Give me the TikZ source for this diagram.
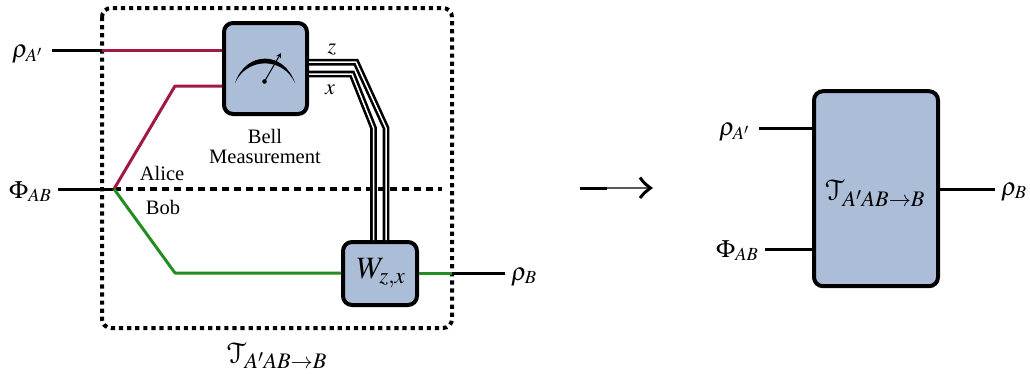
\documentclass[tikz,border=0pt]{standalone}
\usepackage{fontspec}
\usepackage{mathptmx}
\setmainfont{Liberation Serif}
\DeclareMathAlphabet{\mathcal}{U}{eus}{m}{n}
\usetikzlibrary{arrows.meta}
\definecolor{boxblue}{RGB}{172,189,216}
\definecolor{dred}{RGB}{160,25,65}
\definecolor{dgreen}{RGB}{35,140,35}
\tikzset{
  x=1pt,y=-1pt,
  wire/.style={line width=3pt},
  qbox/.style={draw=black,fill=boxblue,line width=4pt,rounded corners=9pt,minimum width=0pt,inner sep=0pt},
  lab/.style={inner sep=0pt,font=\fontsize{25}{28}\selectfont},
  biglab/.style={inner sep=0pt,font=\fontsize{30}{32}\selectfont},
  txt/.style={inner sep=0pt,font=\fontsize{20.5}{24}\selectfont,align=center},
  cwire/.style={line width=2.6pt,double=white,double distance=1.5pt,line join=miter},
}
\begin{document}
\begin{tikzpicture}
\useasboundingbox (0,0) rectangle (1030,373);
% coordinates
\coordinate (in1) at (52,50);
\coordinate (in1b) at (102,50);
\coordinate (in2) at (58,189);
\coordinate (split) at (114,189);
\coordinate (upk) at (175,86);
\coordinate (dnk) at (175,273);
\coordinate (out) at (505,273);
\coordinate (outb) at (452,273);
\coordinate (dashend) at (442,189);
% wires
\draw[wire] (in1) -- (in1b);
\draw[wire] (in2) -- (split);
\draw[wire] (outb) -- (out);
\draw[line width=3.6pt,dash pattern=on 7pt off 5pt] (split) -- (dashend);
% frame
\draw[line width=4pt,dash pattern=on 4.2pt off 3.9pt,rounded corners=9pt] (102,8) rectangle (452,328);
% boxes
\node[qbox,minimum width=83pt,minimum height=91pt] (bell) at (265.5,68.5) {};
\node[qbox,minimum width=74pt,minimum height=63pt] (wgate) at (380,273.5) {};
% coloured wires
\draw[wire,dred] (in1b) -- (bell.west |- in1);
\draw[wire,dred,line join=round] (split) -- (upk) -- (bell.west |- upk);
\draw[wire,dgreen,line join=round] (split) -- (dnk) -- (wgate.west |- dnk);
\draw[wire,dgreen] (wgate.east |- outb) -- (outb);
% classical wires (two doubled lines)
\coordinate (c1a) at (bell.east |- 0,62.2);
\coordinate (c2a) at (bell.east |- 0,74);
\coordinate (c1b) at (356,62.2);
\coordinate (c2b) at (352,74);
\coordinate (c1c) at (386,128);
\coordinate (c2c) at (373.5,128);
\coordinate (c1d) at (wgate.north -| c1c);
\coordinate (c2d) at (wgate.north -| c2c);
\foreach \n in {1,2}{
  \draw[cwire] (c\n a) -- (c\n b) -- (c\n c) -- (c\n d);
}
% meter
\coordinate (mL) at (235,83);
\coordinate (mR) at (295,83);
\coordinate (mC) at (264.5,81.5);
\coordinate (mT) at (281,53);
\fill (mL) .. controls (246,50.5) and (284,50.5) .. (mR) .. controls (283,56.8) and (247,56.8) .. cycle;
\fill (mC) circle (2.3pt);
\draw[line width=1pt,-{Stealth[length=5pt,width=5pt]}] (mC) -- (mT);
% labels
\node[lab,anchor=base west] (l1) at (12,57) {$\rho_{A'}$};
\node[lab,anchor=base west] (l2) at (9,198) {$\Phi_{AB}$};
\node[lab,anchor=base west] (l3) at (511,280) {$\rho_{B}$};
\node[biglab,anchor=base] (tl) at (277,363) {$\mathcal{T}_{A'AB\to B}$};
\node[txt,anchor=base] (alice) at (162,180) {Alice};
\node[txt,anchor=base] (bob) at (163,214) {Bob};
\node[txt,anchor=base] (b1) at (265,143) {Bell};
\node[txt,anchor=base] (b2) at (265,163) {Measurement};
\node[lab,font=\fontsize{22}{24}\selectfont,anchor=base] (z) at (332,53) {$z$};
\node[lab,font=\fontsize{22}{24}\selectfont,anchor=base] (xx) at (330,94) {$x$};
\node[lab,font=\fontsize{31}{34}\selectfont,anchor=center] (wl) at (381,273) {$W_{z,x}$};
% arrow
\coordinate (aL) at (580,188);
\coordinate (aM) at (607,188);
\coordinate (aR) at (650,188);
\draw[line width=3pt] (aL) -- (aM);
\draw[line width=2.4pt,black!65] (aM) -- (aR);
\draw[line width=3pt] (640,177.5) .. controls (644,183) .. (650.5,188) .. controls (644,193) .. (640,198);
% right box
\node[qbox,minimum width=124pt,minimum height=195pt] (T) at (876,188.7) {};
\coordinate (r1) at (759,128);
\coordinate (r2) at (765,249);
\coordinate (r3) at (995,189);
\draw[wire] (r1) -- (T.west |- r1);
\draw[wire] (r2) -- (T.west |- r2);
\draw[wire] (T.east |- r3) -- (r3);
\node[biglab,anchor=center] (tt) at (875,193) {$\mathcal{T}_{A'AB\to B}$};
\node[lab,anchor=base west] (r1l) at (719,135) {$\rho_{A'}$};
\node[lab,anchor=base west] (r2l) at (716,257) {$\Phi_{AB}$};
\node[lab,anchor=base west] (r3l) at (1001,195) {$\rho_{B}$};
\end{tikzpicture}
\end{document}
